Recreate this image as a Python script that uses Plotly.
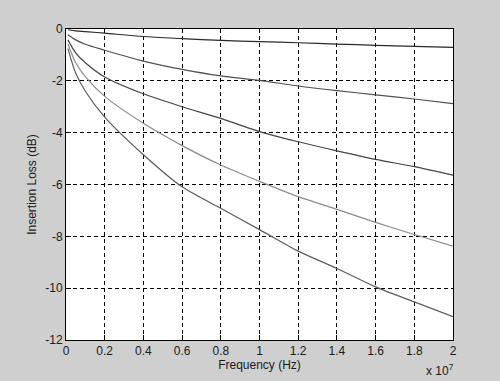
import plotly.graph_objects as go

freq = [0.01e7, 0.05e7, 0.1e7, 0.2e7, 0.4e7, 0.6e7, 0.8e7, 1.0e7, 1.2e7, 1.4e7, 1.6e7, 1.8e7, 2.0e7]
loss_1 = [-0.03, -0.07, -0.10, -0.16, -0.29, -0.37, -0.44, -0.49, -0.53, -0.58, -0.63, -0.67, -0.71]
loss_2 = [-0.22, -0.42, -0.59, -0.82, -1.24, -1.56, -1.81, -1.98, -2.20, -2.38, -2.54, -2.70, -2.88]
loss_3 = [-0.42, -0.92, -1.30, -1.85, -2.50, -3.00, -3.45, -3.96, -4.35, -4.70, -5.03, -5.31, -5.64]
loss_4 = [-0.58, -1.30, -1.84, -2.60, -3.64, -4.50, -5.25, -5.88, -6.47, -6.96, -7.46, -7.93, -8.38]
loss_5 = [-0.76, -1.70, -2.40, -3.40, -4.85, -6.09, -6.92, -7.74, -8.57, -9.24, -9.95, -10.53, -11.10]

series = [loss_1, loss_2, loss_3, loss_4, loss_5]
colors = ["#2a2a2a", "#505050", "#444444", "#8c8c8c", "#5c5c5c"]

x_ticks = [i * 0.2e7 for i in range(11)]
x_tick_labels = ["0", "0.2", "0.4", "0.6", "0.8", "1", "1.2", "1.4", "1.6", "1.8", "2"]
y_ticks = [0, -2, -4, -6, -8, -10, -12]
y_tick_labels = ["0", "-2", "-4", "-6", "-8", "-10", "-12"]

fig = go.Figure()
for ys, c in zip(series, colors):
    fig.add_trace(go.Scatter(x=freq, y=ys, mode="lines", line=dict(color=c, width=1.2, shape="spline", smoothing=0.8),
                             showlegend=False, hoverinfo="skip"))

font = dict(family="Liberation Sans, Arial, sans-serif", size=12, color="#1a1a1a")
axis_common = dict(showline=True, linecolor="black", linewidth=1, mirror=True, ticks="inside", ticklen=5,
                   tickcolor="black", showgrid=True, gridcolor="black", gridwidth=1, griddash="4px,3px",
                   zeroline=False, tickfont=font, automargin=False)

fig.update_xaxes(range=[0, 2e7], tickvals=x_ticks, ticktext=x_tick_labels,
                 title=dict(text="Frequency (Hz)", font=font, standoff=2), **axis_common)
fig.update_yaxes(range=[-12, 0], tickvals=y_ticks, ticktext=y_tick_labels,
                 title=dict(text="Insertion Loss (dB)", font=font, standoff=6), **axis_common)

fig.add_annotation(text="x 10<sup>7</sup>", xref="paper", yref="paper", x=1.005, y=-0.125,
                   xanchor="right", yanchor="bottom", showarrow=False, font=font, borderpad=0)

fig.update_layout(width=500, height=381, margin=dict(l=66, r=47, t=29, b=41),
                  paper_bgcolor="#cfcfcf", plot_bgcolor="white", font=font)

fig.write_html("out.html", config={"displayModeBar": False},
               post_script="document.body.style.margin='0';document.body.style.background='#cfcfcf';")
